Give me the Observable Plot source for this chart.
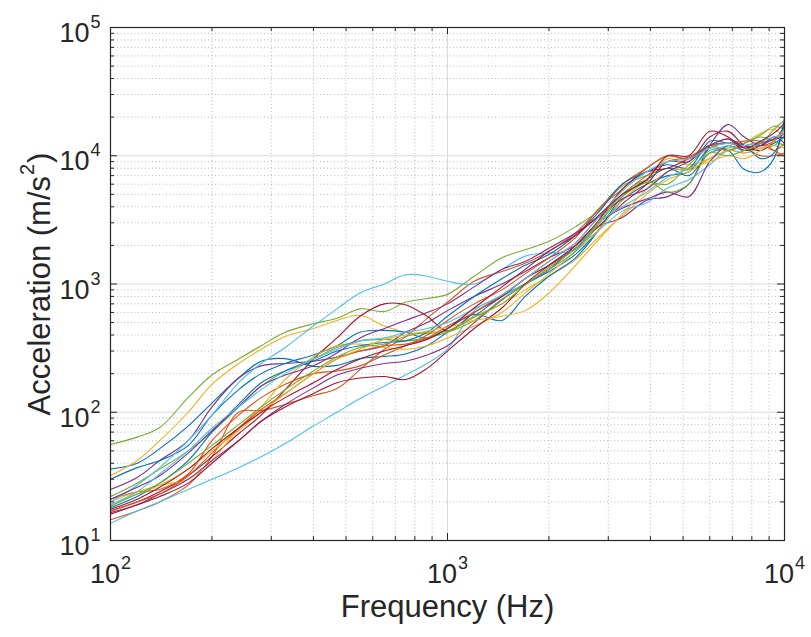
<!DOCTYPE html>
<html><head><meta charset="utf-8">
<script src="https://cdn.jsdelivr.net/npm/d3@7"></script>
<script src="https://cdn.jsdelivr.net/npm/@observablehq/plot@0.6"></script>
<style>
html,body{margin:0;padding:0;background:#fff;}
</style></head><body><div id="chart"></div>
<script>
// Frequency grid (Hz)
const freq = [100,120,140,170,200,240,280,330,400,470,550,650,750,870,1000,1200,1450,1700,2000,2400,2800,3300,3900,4500,5200,6000,6800,7600,8500,9300,10000];
// Acceleration series (m/s^2), one per measurement
const s1  = [36,40,52,78,118,185,250,262,228,232,262,272,285,330,420,560,800,1000,1250,1700,2600,4500,6000,7000,7500,11500,12500,12000,11000,12500,14000];
const s2  = [14.5,17,20,27,45,100,103,115,135,153,215,310,385,540,720,1050,1250,1450,1800,2500,3800,6000,8000,10000,9500,12000,12500,11500,10000,10000,10500];
const s3  = [32,42,60,100,165,240,310,390,450,520,570,470,420,410,430,560,700,900,1150,1550,2300,3400,5000,6500,7500,9500,11000,12500,15000,16000,14000];
const s4  = [25,31,42,60,110,185,230,240,250,270,300,330,420,500,620,800,1000,1250,1600,2000,2800,3300,4500,4800,6000,12000,17500,14000,12000,13000,16000];
const s5  = [56,64,76,130,195,260,330,420,490,540,640,610,720,770,830,1150,1600,1850,2150,2800,3700,5800,7000,8000,7800,11000,11500,12500,14500,17000,16000];
const s6  = [13.6,17,20,25,30,37,45,57,78,100,128,160,195,240,310,620,800,1000,1300,1900,2600,3700,4300,5600,6500,8500,11000,10500,11500,12000,14000];
const s7  = [17,20,24,32,45,68,95,150,260,380,560,700,690,560,430,600,800,1100,1400,1900,2800,4200,6000,9000,9000,14000,15500,12000,11000,13000,17000];
const s8  = [30,37,42,55,95,150,200,240,280,330,420,435,420,380,450,580,520,800,1150,1600,2600,4800,6500,8000,7000,10500,11000,7800,7500,9500,20000];
const s9  = [21,24,25,33,60,95,130,165,200,210,230,280,330,400,520,700,900,1200,1600,2300,3800,5500,8000,10000,9500,12000,11000,12000,12500,11000,12500];
const s10 = [20,24,27,30,42,75,110,180,270,330,340,320,310,330,380,470,600,850,1200,1800,2600,4500,6500,9500,8500,9500,11000,10500,11500,12000,11500];
const s11 = [16.5,19,23,30,42,60,85,115,155,195,220,240,250,280,330,500,750,1000,1300,2000,3000,3900,4600,5200,4800,9000,12000,11000,12500,13500,15000];
const s12 = [22,28,36,50,70,110,160,210,260,320,360,370,360,380,420,520,760,1000,1300,1800,2900,4800,6200,6000,8500,11500,11000,12500,14000,13000,12000];
const s13 = [20,27,37,60,95,170,240,320,470,640,850,1000,1180,1150,1050,1000,1300,1650,1750,1850,3000,4000,5200,6800,8000,10500,12000,11000,12500,13500,15000];
const s14 = [16,19,22,28,40,60,85,110,140,170,185,190,180,220,300,450,650,1000,1400,2000,3100,5500,7500,8000,9500,12000,13500,11000,12000,13500,14000];
const s15 = [18,22,28,42,70,115,170,210,250,300,330,350,360,420,560,800,1100,1400,1700,2400,3600,6000,7500,8500,8000,13000,12500,12000,9500,10500,18000];
const s16 = [17,20,23,32,48,75,105,140,200,260,300,330,340,380,470,600,820,1100,1500,2100,3300,5000,7000,9000,9800,12000,12500,13000,13000,11000,10000];
const s17 = [19,23,27,36,50,72,100,140,200,260,310,370,400,430,460,520,560,620,850,1400,2200,3500,5500,7500,8000,9000,10000,9500,11000,13000,16000];
const s18 = [21,26,32,48,72,110,160,195,230,290,380,450,520,600,700,950,1300,1500,1900,2500,3300,4600,5500,7500,9000,12000,13500,12000,12000,14000,12500];
const s19 = [18.5,23,28,40,55,80,110,150,210,270,320,340,390,420,430,550,700,980,1350,1900,3000,5000,6400,5200,6000,10500,10000,11000,12500,16000,19000];
const s20 = [19,24,33,50,75,110,150,200,260,310,360,380,420,450,500,640,820,1100,1500,2100,3300,5300,7500,9000,9500,11500,12500,12000,13000,14000,15000];
const s21 = [17.5,21,26,36,52,75,100,130,170,215,260,300,330,370,450,650,950,1300,1800,2400,3400,5000,6500,10000,10000,15500,14000,11500,13000,15000,18000];
const series = [s1,s2,s3,s4,s5,s6,s7,s8,s9,s10,s11,s12,s13,s14,s15,s16,s17,s18,s19,s20,s21];
const colors = ["#0072BD","#D95319","#EDB120","#7E2F8E","#77AC30","#4DBEEE","#A2142F"];

// Tick values
const majorX = [100,1000,10000];
const minorX = [200,300,400,500,600,700,800,900,2000,3000,4000,5000,6000,7000,8000,9000];
const majorY = [10,100,1000,10000,100000];
const minorY = [20,30,40,50,60,70,80,90,200,300,400,500,600,700,800,900,2000,3000,4000,5000,6000,7000,8000,9000,20000,30000,40000,50000,60000,70000,80000,90000];
const xTitle = "Frequency (Hz)";
const yTitle = "Acceleration (m/s^2)";

const W = 811, H = 637, mL = 110, mR = 27, mT = 27, mB = 97;
const fw = W - mL - mR, fh = H - mT - mB;
const axisColor = "#262626";
const expLabel = d => "10^" + Math.round(Math.log10(d));

const lineMarks = series.map((s, i) =>
  Plot.line(freq.map((f, j) => ({f, a: s[j]})), {
    x: "f", y: "a", stroke: colors[i % 7], strokeWidth: 1.1, curve: "catmull-rom"
  })
);

const svg = Plot.plot({
  width: W, height: H,
  marginLeft: mL, marginRight: mR, marginTop: mT, marginBottom: mB,
  style: {fontFamily: "'Liberation Sans', Arial, Helvetica, sans-serif", background: "white", color: axisColor},
  x: {type: "log", domain: [100, 10000], axis: null},
  y: {type: "log", domain: [10, 100000], axis: null},
  marks: [
    Plot.ruleX(minorX, {x: d => d, stroke: "#b8b8b8", strokeDasharray: "1,2.5", strokeWidth: 1}),
    Plot.ruleY(minorY, {y: d => d, stroke: "#b8b8b8", strokeDasharray: "1,2.5", strokeWidth: 1}),
    Plot.ruleX(majorX, {x: d => d, stroke: "#dadada", strokeWidth: 1}),
    Plot.ruleY(majorY, {y: d => d, stroke: "#dadada", strokeWidth: 1}),
    ...lineMarks,
    Plot.frame({stroke: axisColor, strokeWidth: 1.2}),
    Plot.ruleX(majorX, {x: d => d, insetTop: fh - 7, stroke: axisColor}),
    Plot.ruleX(majorX, {x: d => d, insetBottom: fh - 7, stroke: axisColor}),
    Plot.ruleX(minorX, {x: d => d, insetTop: fh - 4, stroke: axisColor}),
    Plot.ruleX(minorX, {x: d => d, insetBottom: fh - 4, stroke: axisColor}),
    Plot.ruleY(majorY, {y: d => d, insetRight: fw - 7, stroke: axisColor}),
    Plot.ruleY(majorY, {y: d => d, insetLeft: fw - 7, stroke: axisColor}),
    Plot.ruleY(minorY, {y: d => d, insetRight: fw - 4, stroke: axisColor}),
    Plot.ruleY(minorY, {y: d => d, insetLeft: fw - 4, stroke: axisColor}),
    Plot.text(majorX, {x: d => d, frameAnchor: "bottom", lineAnchor: "middle", dy: 34, text: expLabel, fontSize: 27, fill: axisColor}),
    Plot.text(majorY, {y: d => d, frameAnchor: "left", lineAnchor: "middle", dx: -10, dy: 6, textAnchor: "end", text: expLabel, fontSize: 27, fill: axisColor}),
    Plot.text([xTitle], {frameAnchor: "bottom", lineAnchor: "middle", dy: 67, text: d => d, fontSize: 31, fill: axisColor}),
    Plot.text([yTitle], {frameAnchor: "left", textAnchor: "middle", lineAnchor: "middle", dx: -70, rotate: -90, text: d => d, fontSize: 31, fill: axisColor})
  ]
});

// Render "^n" as a real superscript
const NS = "http://www.w3.org/2000/svg";
d3.select(svg).selectAll("text").each(function() {
  const t = this.textContent;
  const m = t.match(/^(.*?)\^(\d+)(.*)$/);
  if (!m) return;
  const fs = parseFloat(this.getAttribute("font-size") || this.parentNode.getAttribute("font-size") || 27);
  const supSize = Math.round(fs * 0.66);
  const shift = Math.round(fs * 0.5);
  this.textContent = "";
  const a = document.createElementNS(NS, "tspan"); a.textContent = m[1]; this.appendChild(a);
  const b = document.createElementNS(NS, "tspan");
  b.setAttribute("dy", -shift); b.setAttribute("font-size", supSize); b.setAttribute("dx", 1);
  b.textContent = m[2]; this.appendChild(b);
  if (m[3]) {
    const c = document.createElementNS(NS, "tspan");
    c.setAttribute("dy", shift); c.setAttribute("dx", 1); c.textContent = m[3]; this.appendChild(c);
  }
});
document.getElementById("chart").appendChild(svg);
</script>
</body></html>
